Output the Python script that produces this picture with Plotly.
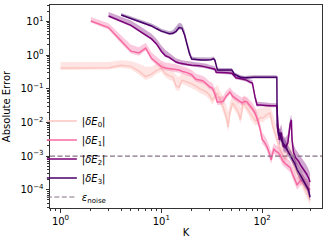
import plotly.graph_objects as go

# ---------------- data ----------------
K_E0 = [1, 2, 3, 4, 5, 6, 7, 8, 9, 10, 11, 12, 13, 14, 15, 16,
        18, 20, 22, 24, 26, 28, 30, 32, 34, 36, 38,
        41, 44, 46, 48, 51, 54, 58, 61, 63, 65, 69, 73, 77, 81, 86, 91, 96,
        102, 108, 114, 120, 124, 128, 134, 140, 147, 154, 161, 168, 176, 184, 190, 200,
        211, 224, 238, 252, 267, 283, 299]
E0_MEAN = [0.41, 0.41, 0.42, 0.50, 0.46, 0.33, 0.23, 0.27, 0.35, 0.40, 0.28, 0.24, 0.22, 0.12, 0.11, 0.18,
           0.16, 0.14, 0.12, 0.10, 0.09, 0.08, 0.065, 0.046, 0.06, 0.075, 0.05,
           0.029, 0.015, 0.0073, 0.02, 0.038, 0.03, 0.02, 0.012, 0.025, 0.038, 0.03, 0.023, 0.017, 0.0135, 0.011, 0.0118, 0.014,
           0.0135, 0.016, 0.018, 0.019, 0.012, 0.0073, 0.005, 0.003, 0.002, 0.0015, 0.0011, 0.0008, 0.0011, 0.0014, 0.0015, 0.0007,
           0.0004, 0.0003, 0.0002, 0.00015, 0.0001, 0.00007, 0.00005]
E0_LO = [0.36, 0.36, 0.37, 0.42, 0.38, 0.26, 0.18, 0.21, 0.28, 0.32, 0.22, 0.18, 0.17, 0.09, 0.085, 0.14,
         0.12, 0.105, 0.09, 0.075, 0.068, 0.06, 0.048, 0.034, 0.045, 0.056, 0.037,
         0.021, 0.011, 0.005, 0.015, 0.028, 0.022, 0.015, 0.009, 0.018, 0.028, 0.022, 0.017, 0.012, 0.01, 0.008, 0.0088, 0.0105,
         0.01, 0.012, 0.013, 0.014, 0.009, 0.0055, 0.0037, 0.0022, 0.0015, 0.0011, 0.0008, 0.0006, 0.0008, 0.001, 0.0011, 0.0005,
         0.0003, 0.00022, 0.00015, 0.00011, 0.000075, 0.00005, 0.000035]
E0_HI = [0.62, 0.62, 0.62, 0.70, 0.66, 0.55, 0.45, 0.45, 0.55, 0.6, 0.45, 0.4, 0.36, 0.25, 0.22, 0.3,
         0.27, 0.24, 0.21, 0.18, 0.16, 0.14, 0.12, 0.09, 0.11, 0.13, 0.09,
         0.06, 0.035, 0.02, 0.04, 0.065, 0.055, 0.04, 0.028, 0.045, 0.065, 0.055, 0.042, 0.032, 0.027, 0.024, 0.025, 0.028,
         0.027, 0.03, 0.033, 0.034, 0.024, 0.016, 0.011, 0.007, 0.0045, 0.0033, 0.0025, 0.0019, 0.0024, 0.003, 0.0032, 0.0016,
         0.0009, 0.0007, 0.00045, 0.00035, 0.00024, 0.00016, 0.00011]

K_E1 = [2, 3, 4, 5, 6, 7, 8, 9, 10, 11, 12, 13, 14, 15, 16,
        18, 20, 22, 24, 26, 28, 30, 32, 34, 36, 38,
        41, 44, 48, 51, 54, 58, 63, 67, 71, 75, 79, 85, 90, 96,
        100, 106, 112, 118, 123, 127, 131, 137, 143, 150,
        161, 170, 180, 190, 200, 211, 222, 238, 254, 267, 283, 299]
E1_MEAN = [10.2, 6.5, 2.6, 1.3, 1.15, 1.6, 0.8, 0.6, 0.45, 0.41, 0.40, 0.38, 0.37, 0.36, 0.33,
           0.30, 0.26, 0.19, 0.18, 0.17, 0.14, 0.115, 0.105, 0.07, 0.04, 0.04,
           0.042, 0.06, 0.08, 0.06, 0.053, 0.045, 0.038, 0.042, 0.04, 0.032, 0.027, 0.019, 0.012, 0.006,
           0.0032, 0.0025, 0.0019, 0.0012, 0.00077, 0.0012, 0.0016, 0.0014, 0.0013, 0.0011,
           0.0007, 0.0006, 0.0005, 0.00045, 0.0003, 0.0002, 0.00014, 0.00018, 0.0002, 0.00015, 0.00012, 0.0001]
E1_LO = [9.2, 5.6, 2.2, 1.1, 0.95, 1.35, 0.68, 0.5, 0.38, 0.35, 0.34, 0.32, 0.31, 0.3, 0.28,
         0.25, 0.22, 0.16, 0.15, 0.14, 0.12, 0.097, 0.088, 0.058, 0.033, 0.033,
         0.035, 0.05, 0.067, 0.05, 0.044, 0.037, 0.031, 0.035, 0.033, 0.026, 0.022, 0.015, 0.0095, 0.0046,
         0.0024, 0.0019, 0.0014, 0.0009, 0.00058, 0.0009, 0.0012, 0.001, 0.001, 0.0008,
         0.00052, 0.00045, 0.00037, 0.00033, 0.00022, 0.00015, 0.0001, 0.00013, 0.00015, 0.00011, 0.00009, 0.000075]
E1_HI = [13.5, 8.8, 3.8, 2.0, 1.7, 2.3, 1.2, 0.9, 0.68, 0.6, 0.58, 0.55, 0.53, 0.5, 0.46,
         0.42, 0.36, 0.28, 0.26, 0.24, 0.2, 0.165, 0.15, 0.1, 0.06, 0.058,
         0.06, 0.085, 0.11, 0.085, 0.075, 0.065, 0.055, 0.06, 0.057, 0.046, 0.04, 0.028, 0.018, 0.009,
         0.005, 0.004, 0.003, 0.002, 0.0013, 0.0018, 0.0024, 0.0021, 0.002, 0.0017,
         0.0011, 0.00095, 0.0008, 0.0007, 0.00048, 0.00032, 0.00023, 0.00028, 0.0003, 0.00023, 0.00019, 0.00016]

K_E2 = [3, 4, 5, 6, 7, 8, 9, 10, 11, 12, 13, 14, 15, 16,
        18, 20, 22, 24, 26, 28,
        31, 34, 35, 38, 44, 50, 53, 55, 60, 66, 70, 75, 80, 85, 89, 95,
        100, 110, 123, 135, 140, 143, 148, 155, 162, 170, 180, 190, 195, 198,
        205, 215, 230, 245, 260, 275, 290, 299]
E2_MEAN = [14.4, 10.0, 7.6, 5.3, 4.0, 3.0, 2.1, 1.3, 0.95, 0.85, 0.72, 0.62, 0.58, 0.55,
           0.52, 0.5, 0.5, 0.48, 0.46, 0.44,
           0.41, 0.38, 0.31, 0.31, 0.30, 0.29, 0.24, 0.21, 0.2, 0.19, 0.18, 0.16, 0.148, 0.057, 0.033, 0.033,
           0.033, 0.032, 0.031, 0.031, 0.031, 0.01, 0.003, 0.005, 0.002, 0.0018, 0.0025, 0.009, 0.012, 0.003,
           0.0013, 0.0009, 0.0007, 0.0005, 0.0004, 0.0003, 0.00022, 0.00017]
E2_LO = [13.2, 9.2, 7.0, 4.9, 3.7, 2.8, 1.9, 1.2, 0.88, 0.78, 0.66, 0.57, 0.53, 0.5,
         0.48, 0.46, 0.46, 0.44, 0.42, 0.4,
         0.37, 0.34, 0.28, 0.28, 0.27, 0.26, 0.22, 0.19, 0.18, 0.17, 0.16, 0.145, 0.13, 0.05, 0.029, 0.03,
         0.03, 0.029, 0.028, 0.028, 0.028, 0.007, 0.002, 0.0035, 0.0014, 0.0012, 0.0018, 0.006, 0.008, 0.002,
         0.0009, 0.0006, 0.00048, 0.00035, 0.00028, 0.0002, 0.00015, 0.00012]
E2_HI = [19, 13.5, 10.5, 7.5, 5.7, 4.3, 3.0, 1.9, 1.4, 1.15, 0.95, 0.8, 0.75, 0.7,
         0.66, 0.63, 0.62, 0.6, 0.58, 0.55,
         0.5, 0.46, 0.38, 0.37, 0.36, 0.35, 0.29, 0.26, 0.24, 0.23, 0.22, 0.19, 0.18, 0.07, 0.042, 0.04,
         0.04, 0.039, 0.037, 0.037, 0.037, 0.02, 0.006, 0.009, 0.004, 0.0035, 0.0045, 0.014, 0.017, 0.005,
         0.0022, 0.0016, 0.0012, 0.0009, 0.0007, 0.00055, 0.0004, 0.0003]

K_E3 = [4, 5, 6, 7, 8, 9, 10, 11, 12, 13, 14, 15, 16, 17, 18, 19, 20,
        22, 25, 28, 31, 33, 34, 35, 36, 40, 44, 50, 53, 57, 61, 67, 76, 83,
        100, 120, 140, 141, 146, 150, 155, 160, 170, 180, 190, 200,
        211, 222, 238, 250, 262, 275, 288, 299]
E3_MEAN = [15.4, 12.2, 10.0, 8.4, 7.3, 6.0, 5.1, 4.7, 4.3, 4.4, 5.0, 6.5, 6.3, 4.0, 2.0, 1.1, 0.76,
           0.73, 0.71, 0.71, 0.72, 0.77, 0.7, 0.5, 0.36, 0.36, 0.36, 0.36, 0.27, 0.24, 0.22, 0.21, 0.22, 0.22,
           0.22, 0.22, 0.22, 0.008, 0.004, 0.005, 0.003, 0.0025, 0.002, 0.0014, 0.0011, 0.0008,
           0.0006, 0.0004, 0.00028, 0.00022, 0.00016, 0.00013, 0.0001, 0.00006]
E3_LO = [14.5, 11.3, 9.3, 7.8, 6.8, 5.6, 4.7, 4.3, 4.0, 4.0, 4.5, 5.7, 5.6, 3.5, 1.8, 1.0, 0.7,
         0.67, 0.66, 0.66, 0.67, 0.71, 0.64, 0.46, 0.33, 0.33, 0.33, 0.33, 0.25, 0.22, 0.2, 0.19, 0.2, 0.2,
         0.2, 0.2, 0.2, 0.006, 0.003, 0.0037, 0.0022, 0.0018, 0.0015, 0.001, 0.0008, 0.0006,
         0.00045, 0.0003, 0.0002, 0.00016, 0.00012, 0.0001, 0.00007, 0.000045]
E3_HI = [17.5, 14, 11.5, 9.8, 8.6, 7.2, 6.0, 5.5, 5.1, 5.4, 7.0, 9.0, 8.5, 5.5, 2.6, 1.4, 0.9,
         0.86, 0.84, 0.84, 0.85, 0.9, 0.82, 0.58, 0.42, 0.41, 0.41, 0.41, 0.31, 0.27, 0.25, 0.24, 0.25, 0.25,
         0.25, 0.25, 0.25, 0.012, 0.006, 0.007, 0.0045, 0.0037, 0.003, 0.0021, 0.0016, 0.0012,
         0.0009, 0.0006, 0.00042, 0.00033, 0.00024, 0.0002, 0.00015, 0.0001]

EPS_NOISE = 1e-3

SERIES_NAMES = ["|<i>δE</i><sub>0</sub>|", "|<i>δE</i><sub>1</sub>|",
                "|<i>δE</i><sub>2</sub>|", "|<i>δE</i><sub>3</sub>|"]
NOISE_NAME = "<i>ε</i><sub>noise</sub>"

X_TICK_VALS = [1, 10, 100]
X_TICK_TEXT = ["10<sup>0</sup>", "10<sup>1</sup>", "10<sup>2</sup>"]
Y_TICK_VALS = [1e-4, 1e-3, 1e-2, 1e-1, 1, 10]
Y_TICK_TEXT = ["10<sup>−4</sup>", "10<sup>−3</sup>", "10<sup>−2</sup>",
               "10<sup>−1</sup>", "10<sup>0</sup>", "10<sup>1</sup>"]

# ---------------- styles ----------------
LINE_COLORS = ["#fcc5c0", "#f768a1", "#7a0177", "#49006a"]
FILL_COLORS = ["rgba(252,197,192,0.45)", "rgba(247,104,161,0.35)",
               "rgba(122,1,119,0.35)", "rgba(73,0,106,0.35)"]
NOISE_COLOR = "#857085"

fig = go.Figure()

series = [
    (K_E0, E0_MEAN, E0_LO, E0_HI),
    (K_E1, E1_MEAN, E1_LO, E1_HI),
    (K_E2, E2_MEAN, E2_LO, E2_HI),
    (K_E3, E3_MEAN, E3_LO, E3_HI),
]

for i, (k, m, lo, hi) in enumerate(series):
    fig.add_trace(go.Scatter(x=k, y=lo, mode="lines", line=dict(width=0),
                             showlegend=False, hoverinfo="skip"))
    fig.add_trace(go.Scatter(x=k, y=hi, mode="lines", line=dict(width=0),
                             fill="tonexty", fillcolor=FILL_COLORS[i],
                             showlegend=False, hoverinfo="skip"))
    fig.add_trace(go.Scatter(x=k, y=m, mode="lines", name=SERIES_NAMES[i],
                             line=dict(color=LINE_COLORS[i], width=1.5)))

fig.add_shape(type="line", xref="paper", x0=0, x1=1, yref="y",
              y0=EPS_NOISE, y1=EPS_NOISE,
              line=dict(color=NOISE_COLOR, width=1.2, dash="5px,2.5px"))
fig.add_trace(go.Scatter(x=[None], y=[None], mode="lines", name=NOISE_NAME,
                         line=dict(color=NOISE_COLOR, width=1.2, dash="5px,2.5px")))

axis_common = dict(
    type="log", showline=True, linecolor="#333", linewidth=1, mirror=True,
    ticks="outside", ticklen=3.5, tickwidth=0.8, tickcolor="#333",
    showgrid=False, zeroline=False,
    tickfont=dict(size=10, color="black"),
)

fig.update_xaxes(**axis_common, range=[-0.104, 2.594],
                 tickvals=X_TICK_VALS, ticktext=X_TICK_TEXT,
                 minor=dict(ticks="outside", ticklen=2, tickwidth=0.6, tickcolor="#333",
                            dtick="D1", showgrid=False),
                 title=dict(text="K", font=dict(size=10), standoff=3))
fig.update_yaxes(**axis_common, range=[-4.54, 1.484],
                 tickvals=Y_TICK_VALS, ticktext=Y_TICK_TEXT,
                 minor=dict(ticks="outside", ticklen=2, tickwidth=0.6, tickcolor="#333",
                            dtick="D1", showgrid=False),
                 title=dict(text="Absolute Error", font=dict(size=10), standoff=7))

fig.update_layout(
    width=328, height=244,
    margin=dict(l=50, r=6, t=5, b=36),
    plot_bgcolor="white", paper_bgcolor="white",
    font=dict(family="DejaVu Sans", size=10, color="black"),
    legend=dict(x=-0.03, y=0.50, xanchor="left", yanchor="top",
                traceorder="normal",
                bgcolor="rgba(255,255,255,0)", borderwidth=0,
                font=dict(size=10)),
)

fig.write_html("out.html",
               config={"displayModeBar": False},
               post_script="document.body.style.margin='0px';")
